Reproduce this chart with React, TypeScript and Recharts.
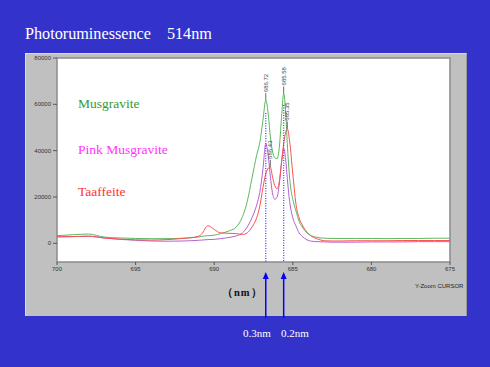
import { LineChart, Line, XAxis, YAxis, CartesianGrid, ReferenceLine, ReferenceDot, ReferenceArea } from "recharts";

// wavelength (nm), denser around the R-lines
const WAVELENGTH = [
  700, 699, 698, 697, 696, 695, 694, 693, 692, 691, 690.8, 690.4, 690, 689.6, 689, 688.6, 688.2,
  687.9, 687.6, 687.3, 687.1, 686.9, 686.72, 686.55, 686.43, 686.3, 686.15, 686.0, 685.85, 685.7,
  685.58, 685.45, 685.35, 685.2, 685.0, 684.8, 684.6, 684.4, 684.1, 683.8, 683.4, 683.0, 682.5,
  682, 681, 680, 679, 678, 677, 676, 675,
];

const MUSGRAVITE = [
  3300, 3700, 4000, 2700, 2300, 2100, 2000, 2000, 2200, 2700, 3000, 3300, 3500, 4200, 5500, 7000, 11500,
  18000, 28000, 38000, 43500, 53000, 61800, 55000, 46000, 40000, 37000, 36500, 42000, 56000,
  64700, 56000, 43000, 28000, 19000, 14000, 9500, 7000, 4500, 3200, 2500, 2200, 2100,
  2100, 2100, 2100, 2000, 2100, 2100, 2200, 2200,
];

const PINK_MUSGRAVITE = [
  2800, 2900, 3000, 2300, 1700, 1300, 1000, 900, 1000, 1300, 1400, 1600, 1700, 2000, 2600, 3200, 4500,
  7000, 11000, 16500, 22000, 32000, 43000, 37000, 29000, 22000, 19000, 20000, 26000, 36000,
  41000, 36000, 28000, 18000, 11000, 7500, 4500, 3000, 1500, 900, 700, 600, 500,
  500, 500, 600, 600, 600, 700, 700, 700,
];

const TAAFFEITE = [
  2800, 2900, 3100, 2300, 1800, 1500, 1400, 1600, 2100, 3000, 4000, 7600, 6000, 4500, 4300, 4200, 3800,
  4500, 7000, 11000, 16000, 24000, 30000, 32500, 33000, 29000, 25000, 23500, 27000, 36000,
  43000, 48000, 49500, 44000, 30000, 17000, 11000, 8000, 4800, 3000, 1800, 1100, 1000,
  1000, 1100, 1100, 1100, 1200, 1200, 1200, 1200,
];

const X_TICKS = [700, 695, 690, 685, 680, 675];
const Y_TICKS = [0, 20000, 40000, 60000, 80000];

// peak readouts of the cursor
const PEAKS = [
  { nm: 686.72, value: 61800, label: "686.72" },
  { nm: 685.58, value: 64700, label: "685.58" },
  { nm: 686.43, value: 33000, label: "686.43" },
  { nm: 685.35, value: 49500, label: "685.35" },
];

// cursor lines (dotted) and arrows under the axis
const CURSORS = [
  { nm: 686.72, top: 56300, note: "0.3nm" },
  { nm: 685.58, top: 59700, note: "0.2nm" },
];

const Y_MIN = -8070;
const Y_MAX = 80000;
const ARROW_TIP = -12400;

const data = WAVELENGTH.map((nm, i) => ({
  nm,
  musgravite: MUSGRAVITE[i],
  pink: PINK_MUSGRAVITE[i],
  taaffeite: TAAFFEITE[i],
}));

const tickStyle = { fontSize: 6, fill: "#333", fontFamily: "Liberation Sans, Arial, sans-serif" };

function PeakLabel(props: any) {
  const { cx, cy, text } = props;
  if (cx == null || cy == null) return null;
  return (
    <g>
      <line x1={cx} y1={cy} x2={cx} y2={cy - 7} stroke="#444" strokeWidth={0.8} />
      <text
        x={cx + 2}
        y={cy - 8}
        transform={`rotate(-90 ${cx + 2} ${cy - 8})`}
        fontSize={6}
        fill="#444"
        fontFamily="Liberation Sans, Arial, sans-serif"
      >
        {text}
      </text>
    </g>
  );
}

function Arrow(props: any) {
  const { cx, cy } = props;
  if (cx == null || cy == null) return null;
  return (
    <g>
      <polygon points={`${cx},${cy} ${cx - 3},${cy + 7} ${cx + 3},${cy + 7}`} fill="#0000ff" />
      <line x1={cx} y1={cy + 5} x2={cx} y2={cy + 46} stroke="#0000ff" strokeWidth={1.5} />
    </g>
  );
}

export default function App() {
  return (
    <div style={{ position: "fixed", left: 0, top: 0, width: 490, height: 367, background: "#3333cc", overflow: "hidden" }}>
      {/* gray instrument window */}
      <div
        style={{
          position: "absolute",
          left: 25,
          top: 53,
          width: 440,
          height: 262,
          background: "#c0c0c0",
          borderTop: "1px solid #dcdcdc",
          borderLeft: "1px solid #dcdcdc",
          borderRight: "1px solid #9a9a9a",
        }}
      />
      <div style={{ position: "absolute", left: 0, top: 0 }}>
        <LineChart width={490} height={367} data={data} margin={{ top: 58, right: 40, bottom: 85, left: 27 }}>
          <CartesianGrid fill="#ffffff" horizontal={false} vertical={false} />
          <ReferenceArea x1={700} x2={675} y1={Y_MIN} y2={Y_MAX} fill="none" stroke="#8a8a8a" strokeWidth={1.5} />
          <XAxis
            type="number"
            dataKey="nm"
            domain={[675, 700]}
            reversed
            ticks={X_TICKS}
            allowDataOverflow
            height={20}
            tickSize={3}
            tick={tickStyle}
            axisLine={false}
            tickLine={{ stroke: "#555" }}
          />
          <YAxis
            type="number"
            domain={[Y_MIN, Y_MAX]}
            ticks={Y_TICKS}
            allowDataOverflow
            width={30}
            tickSize={4}
            tick={tickStyle}
            axisLine={false}
            tickLine={{ stroke: "#555" }}
          />
          <Line type="monotone" dataKey="musgravite" stroke="#5cb85c" strokeWidth={1} dot={false} isAnimationActive={false} />
          <Line type="monotone" dataKey="pink" stroke="#b65fd0" strokeWidth={1} dot={false} isAnimationActive={false} />
          <Line type="monotone" dataKey="taaffeite" stroke="#ff5050" strokeWidth={1} dot={false} isAnimationActive={false} />
          {CURSORS.map((c) => (
            <ReferenceLine
              key={c.note}
              segment={[{ x: c.nm, y: c.top }, { x: c.nm, y: Y_MIN }]}
              stroke="#3a3aff"
              strokeDasharray="1 1.5"
              strokeWidth={1.2}
            />
          ))}
          {PEAKS.map((p) => (
            <ReferenceDot
              key={p.label}
              x={p.nm}
              y={p.value}
              ifOverflow="visible"
              shape={(props: any) => <PeakLabel {...props} text={p.label} />}
            />
          ))}
          {CURSORS.map((c) => (
            <ReferenceDot key={c.note + "-arrow"} x={c.nm} y={ARROW_TIP} ifOverflow="visible" shape={(props: any) => <Arrow {...props} />} />
          ))}
        </LineChart>
      </div>
      {/* texts over the picture */}
      <svg width={490} height={367} style={{ position: "absolute", left: 0, top: 0, pointerEvents: "none" }}>
        <text x={25} y={38.5} fontSize={16.2} fill="#ffffff" fontFamily="Liberation Serif, Times New Roman, serif">
          Photoruminessence　514nm
        </text>
        <g fontFamily="Liberation Serif, Times New Roman, serif" fontSize={13.5}>
          <text x={78} y={108} fill="#339933">Musgravite</text>
          <text x={78} y={154} fill="#ff33ff">Pink Musgravite</text>
          <text x={78} y={196} fill="#ff3333">Taaffeite</text>
        </g>
        <text x={222} y={296} fontSize={10.5} fontWeight="bold" fill="#111" fontFamily="Liberation Serif, Times New Roman, serif" letterSpacing={1}>
          （nm）
        </text>
        <text x={415} y={288} fontSize={6} fill="#222" fontFamily="Liberation Sans, Arial, sans-serif">
          Y-Zoom CURSOR
        </text>
        <g fontFamily="Liberation Serif, Times New Roman, serif" fontSize={11} fill="#ffffff">
          <text x={243} y={336.5}>{CURSORS[0].note}</text>
          <text x={281} y={336.5}>{CURSORS[1].note}</text>
        </g>
      </svg>
    </div>
  );
}
